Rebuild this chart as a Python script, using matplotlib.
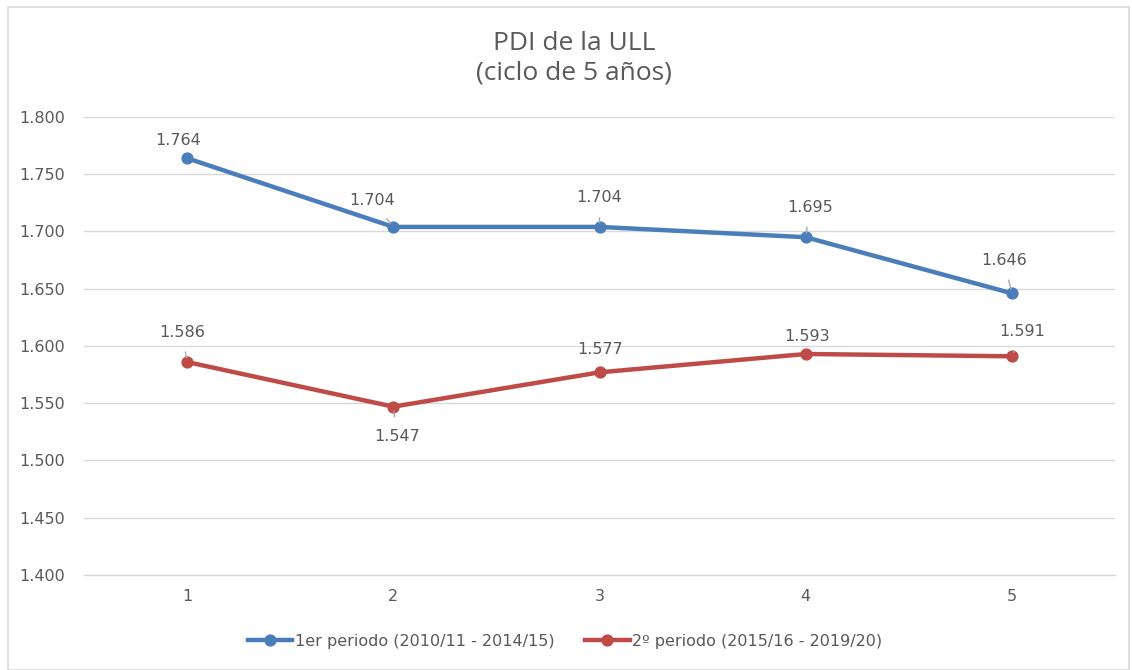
import matplotlib
matplotlib.use("Agg")
import matplotlib.pyplot as plt
from matplotlib.patches import Rectangle

categories = [1, 2, 3, 4, 5]
serie1 = [1.764, 1.704, 1.704, 1.695, 1.646]
serie2 = [1.586, 1.547, 1.577, 1.593, 1.591]
label1 = "1er periodo (2010/11 - 2014/15)"
label2 = "2º periodo (2015/16 - 2019/20)"
yticks = [1.400, 1.450, 1.500, 1.550, 1.600, 1.650, 1.700, 1.750, 1.800]

blue = "#4A7EBB"
red = "#BE4B48"
txt = "#595959"

fig = plt.figure(figsize=(11.32, 6.70), dpi=100)
ax = fig.add_axes([0.0742, 0.1418, 0.9108, 0.6836])

ax.plot(categories, serie1, color=blue, lw=3.2, marker="o", ms=7.8, label=label1, zorder=3)
ax.plot(categories, serie2, color=red, lw=3.2, marker="o", ms=7.8, label=label2, zorder=3)

ax.set_xlim(0.5, 5.5)
ax.set_ylim(1.400, 1.800)
ax.set_yticks(yticks)
ax.set_yticklabels([f"{v:.3f}" for v in yticks], fontsize=11.5, color=txt, family="DejaVu Sans")
ax.set_xticks(categories)
ax.set_xticklabels([str(c) for c in categories], fontsize=11.5, color=txt, family="DejaVu Sans")
ax.tick_params(length=0)
ax.tick_params(axis="x", pad=10)
ax.tick_params(axis="y", pad=13.5)
ax.grid(axis="y", color="#D9D9D9", lw=1)
for s in ax.spines.values():
    s.set_visible(False)
ax.spines["bottom"].set_visible(True)
ax.spines["bottom"].set_color("#D9D9D9")
ax.spines["bottom"].set_linewidth(1)
ax.set_axisbelow(True)

# data label offsets in pixels (dx, dy) and whether a leader line is drawn
off1 = [(-9, 18, False), (-21, 26, True), (0, 29, True), (4, 30, True), (-8, 33, True)]
off2 = [(-5, 30, True), (4, -30, True), (1, 23, False), (1, 18, False), (10, 25, True)]

def label(series, offs):
    for x, y, (dx, dy, lead) in zip(categories, series, offs):
        kw = {}
        if lead:
            kw["arrowprops"] = dict(arrowstyle="-", color="#A6A6A6", lw=1, shrinkA=7, shrinkB=3)
        ax.annotate(f"{y:.3f}", (x, y), xytext=(dx, dy), textcoords="offset pixels",
                    ha="center", va="center", fontsize=11.5, color=txt,
                    family="DejaVu Sans", zorder=4, **kw)

label(serie1, off1)
label(serie2, off2)

fig.text(0.507, 0.913, "PDI de la ULL\n(ciclo de 5 años)", ha="center", va="center",
         fontsize=19, color=txt, family="Open Sans", linespacing=1.2)

leg = fig.legend(loc="center", bbox_to_anchor=(0.499, 0.043), ncol=2, frameon=False,
                 fontsize=11.5, handlelength=2.8, columnspacing=1.9, handletextpad=0.15)
for t in leg.get_texts():
    t.set_color(txt)

fig.add_artist(Rectangle((0.007, 0.0), 0.99, 0.99, transform=fig.transFigure,
                         fill=False, edgecolor="#D9D9D9", lw=1.2))

fig.savefig("out.png", dpi=100)
